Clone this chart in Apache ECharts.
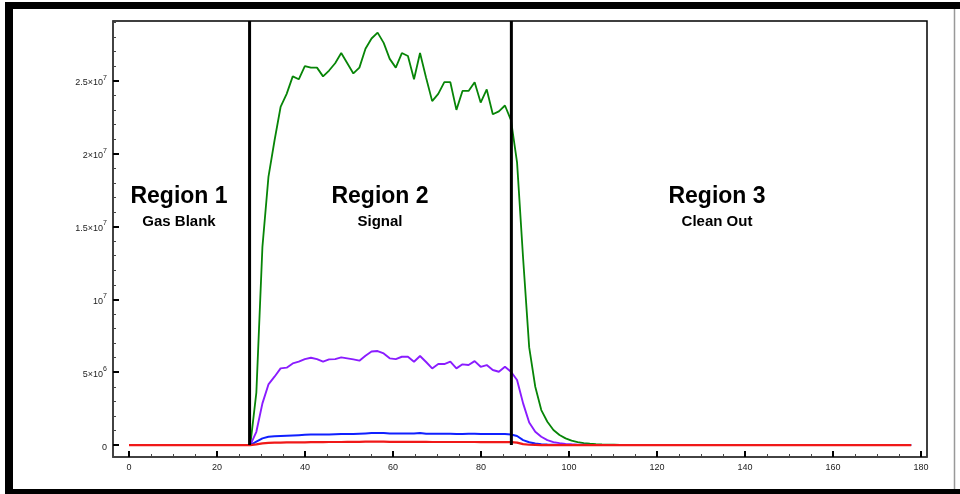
<!DOCTYPE html>
<html>
<head>
<meta charset="utf-8">
<script src="https://cdn.jsdelivr.net/npm/echarts@6/dist/echarts.min.js"></script>
<style>
  html, body { margin: 0; padding: 0; background: #fff; }
  #chart { width: 960px; height: 494px; }
</style>
</head>
<body>
<div id="chart"></div>
<script>
// acquisition time (s)
const times = [
  0, 1.38, 2.76, 4.13, 5.51, 6.89, 8.27, 9.65, 11.02, 12.40,
  13.78, 15.16, 16.54, 17.91, 19.29, 20.67, 22.05, 23.43, 24.80, 26.18,
  27.56, 28.94, 30.32, 31.69, 33.07, 34.45, 35.83, 37.21, 38.58, 39.96,
  41.34, 42.72, 44.10, 45.47, 46.85, 48.23, 49.61, 50.99, 52.36, 53.74,
  55.12, 56.50, 57.88, 59.25, 60.63, 62.01, 63.39, 64.77, 66.14, 67.52,
  68.90, 70.28, 71.66, 73.03, 74.41, 75.79, 77.17, 78.55, 79.92, 81.30,
  82.68, 84.06, 85.44, 86.81, 88.19, 89.57, 90.95, 92.33, 93.70, 95.08,
  96.46, 97.84, 99.22, 100.59, 101.97, 103.35, 104.73, 106.11, 107.48, 108.86,
  110.24, 111.62, 113.00, 114.37, 115.75, 117.13, 118.51, 119.89, 121.26, 122.64,
  124.02, 125.40, 126.78, 128.15, 129.53, 130.91, 132.29, 133.67, 135.04, 136.42,
  137.80, 139.18, 140.56, 141.93, 143.31, 144.69, 146.07, 147.45, 148.82, 150.20,
  151.58, 152.96, 154.34, 155.71, 157.09, 158.47, 159.85, 161.23, 162.60, 163.98,
  165.36, 166.74, 168.12, 169.49, 170.87, 172.25, 173.63, 175.01, 176.38, 177.76
];

// signal, millions of counts
const greenSignal = [
  0, 0, 0, 0, 0, 0, 0, 0, 0, 0,
  0, 0, 0, 0, 0, 0, 0, 0, 0, 0,
  0, 3.6, 13.6, 18.4, 20.9, 23.2, 24.1, 25.3, 25.1, 26.0,
  25.9, 25.9, 25.3, 25.7, 26.2, 26.9, 26.2, 25.5, 25.9, 27.2,
  27.9, 28.3, 27.6, 26.5, 25.9, 26.9, 26.7, 25.1, 26.9, 25.2,
  23.6, 24.1, 24.9, 24.9, 23.0, 24.3, 24.3, 24.9, 23.5, 24.4,
  22.7, 22.9, 23.3, 22.3, 19.4, 12.8, 6.7, 4.0, 2.4, 1.6,
  1.03, 0.69, 0.46, 0.3, 0.2, 0.13, 0.09, 0.06, 0.04, 0.03,
  0.02, 0.01, 0, 0, 0, 0, 0, 0, 0, 0,
  0, 0, 0, 0, 0, 0, 0, 0, 0, 0,
  0, 0, 0, 0, 0, 0, 0, 0, 0, 0,
  0, 0, 0, 0, 0, 0, 0, 0, 0, 0,
  0, 0, 0, 0, 0, 0, 0, 0, 0, 0
];

const purpleSignal = [
  0, 0, 0, 0, 0, 0, 0, 0, 0, 0,
  0, 0, 0, 0, 0, 0, 0, 0, 0, 0,
  0, 0.91, 2.86, 4.16, 4.69, 5.26, 5.31, 5.6, 5.72, 5.9,
  5.99, 5.9, 5.72, 5.88, 5.9, 6.02, 5.95, 5.88, 5.79, 6.13,
  6.42, 6.45, 6.29, 5.95, 5.9, 6.06, 6.06, 5.72, 6.11, 5.7,
  5.26, 5.56, 5.56, 5.72, 5.26, 5.54, 5.49, 5.76, 5.37, 5.49,
  5.15, 5.03, 5.37, 5.03, 4.46, 2.86, 1.55, 0.91, 0.57, 0.34,
  0.2, 0.13, 0.08, 0.05, 0.03, 0.02, 0.01, 0, 0, 0,
  0, 0, 0, 0, 0, 0, 0, 0, 0, 0,
  0, 0, 0, 0, 0, 0, 0, 0, 0, 0,
  0, 0, 0, 0, 0, 0, 0, 0, 0, 0,
  0, 0, 0, 0, 0, 0, 0, 0, 0, 0,
  0, 0, 0, 0, 0, 0, 0, 0, 0, 0
];

const blueSignal = [
  0, 0, 0, 0, 0, 0, 0, 0, 0, 0,
  0, 0, 0, 0, 0, 0, 0, 0, 0, 0,
  0, 0.23, 0.46, 0.57, 0.6, 0.62, 0.64, 0.66, 0.68, 0.7,
  0.72, 0.72, 0.73, 0.73, 0.74, 0.75, 0.75, 0.76, 0.78, 0.8,
  0.82, 0.83, 0.82, 0.8, 0.8, 0.8, 0.79, 0.8, 0.82, 0.78,
  0.77, 0.77, 0.78, 0.77, 0.75, 0.76, 0.77, 0.77, 0.76, 0.76,
  0.76, 0.75, 0.75, 0.73, 0.62, 0.34, 0.19, 0.1, 0.05, 0.03,
  0.02, 0.01, 0, 0, 0, 0, 0, 0, 0, 0,
  0, 0, 0, 0, 0, 0, 0, 0, 0, 0,
  0, 0, 0, 0, 0, 0, 0, 0, 0, 0,
  0, 0, 0, 0, 0, 0, 0, 0, 0, 0,
  0, 0, 0, 0, 0, 0, 0, 0, 0, 0,
  0, 0, 0, 0, 0, 0, 0, 0, 0, 0
];

const redSignal = [
  0, 0, 0, 0, 0, 0, 0, 0, 0, 0,
  0, 0, 0, 0, 0, 0, 0, 0, 0, 0,
  0, 0.05, 0.12, 0.15, 0.16, 0.17, 0.18, 0.18, 0.19, 0.19,
  0.2, 0.2, 0.2, 0.21, 0.21, 0.21, 0.22, 0.22, 0.22, 0.23,
  0.23, 0.23, 0.23, 0.22, 0.22, 0.22, 0.22, 0.22, 0.22, 0.22,
  0.21, 0.21, 0.21, 0.21, 0.21, 0.21, 0.21, 0.21, 0.2, 0.2,
  0.2, 0.2, 0.2, 0.2, 0.17, 0.06, 0.02, 0.01, 0, 0,
  0, 0, 0, 0, 0, 0, 0, 0, 0, 0,
  0, 0, 0, 0, 0, 0, 0, 0, 0, 0,
  0, 0, 0, 0, 0, 0, 0, 0, 0, 0,
  0, 0, 0, 0, 0, 0, 0, 0, 0, 0,
  0, 0, 0, 0, 0, 0, 0, 0, 0, 0,
  0, 0, 0, 0, 0, 0, 0, 0, 0, 0
];

// region boundaries (s)
const regionBounds = [27.4, 86.9];
const regionTitles = ['Region 1', 'Region 2', 'Region 3'];
const regionNames = ['Gas Blank', 'Signal', 'Clean Out'];

const xTicks = [0, 20, 40, 60, 80, 100, 120, 140, 160, 180];
const xMinorTicks = [5, 10, 15, 25, 30, 35, 45, 50, 55, 65, 70, 75, 85, 90, 95,
  105, 110, 115, 125, 130, 135, 145, 150, 155, 165, 170, 175];
const yTicks = [0, 5, 10, 15, 20, 25];
const yTickMantissa = ['0', '5×10', '10', '1.5×10', '2×10', '2.5×10'];
const yTickExponent = ['', '6', '7', '7', '7', '7'];
const yMinorTicks = [1, 2, 3, 4, 6, 7, 8, 9, 11, 12, 13, 14, 16, 17, 18, 19,
  21, 22, 23, 24, 26, 27, 28, 29];

const FONT = '"Liberation Sans", Arial, Helvetica, sans-serif';

const chart = echarts.init(document.getElementById('chart'), null, { renderer: 'canvas' });

function pairs(values) {
  return times.map((t, i) => [t, values[i]]);
}

const xRange = { min: -3.64, max: 181.36 };
const yRange = { min: -0.82, max: 29.1 };

const regionTexts = [];
const regionCenters = [179, 380, 717];
regionCenters.forEach((cx, i) => {
  regionTexts.push({
    type: 'text', x: cx, y: 197, z: 100,
    style: {
      text: regionTitles[i], fill: '#000',
      font: 'bold 23px ' + FONT,
      align: 'center', verticalAlign: 'middle',
      textAlign: 'center', textVerticalAlign: 'middle'
    }
  });
  regionTexts.push({
    type: 'text', x: cx, y: 222, z: 100,
    style: {
      text: regionNames[i], fill: '#000',
      font: 'bold 15px ' + FONT,
      align: 'center', verticalAlign: 'middle',
      textAlign: 'center', textVerticalAlign: 'middle'
    }
  });
});

chart.setOption({
  animation: false,
  backgroundColor: '#fff',
  grid: {
    left: 113, right: 33, top: 21, bottom: 37,
    show: true, borderColor: '#000', borderWidth: 1.5, backgroundColor: '#fff'
  },
  xAxis: [{
    type: 'value', position: 'bottom', min: xRange.min, max: xRange.max,
    axisLine: { show: true, onZero: false, lineStyle: { color: '#444', width: 1.5 } },
    axisTick: { show: true, inside: true, length: 6, customValues: xTicks, lineStyle: { color: '#000', width: 2 } },
    axisLabel: { customValues: xTicks, color: '#222', fontSize: 9, fontFamily: FONT, margin: 6 },
    splitLine: { show: false }
  }, {
    type: 'value', position: 'bottom', min: xRange.min, max: xRange.max,
    axisLine: { show: false, onZero: false },
    axisTick: { show: true, inside: true, length: 3, customValues: xMinorTicks, lineStyle: { color: '#444', width: 1 } },
    axisLabel: { show: false },
    splitLine: { show: false }
  }],
  yAxis: [{
    type: 'value', position: 'left', min: yRange.min, max: yRange.max,
    axisLine: { show: true, onZero: false, lineStyle: { color: '#444', width: 1.5 } },
    axisTick: { show: true, inside: true, length: 6, customValues: yTicks, lineStyle: { color: '#000', width: 2 } },
    axisLabel: {
      customValues: yTicks, margin: 6,
      formatter: (v) => {
        const i = yTicks.indexOf(v);
        if (i < 0) return '';
        if (!yTickExponent[i]) return '{m|' + yTickMantissa[i] + '}';
        return '{m|' + yTickMantissa[i] + '}{e|' + yTickExponent[i] + '}';
      },
      rich: {
        m: { fontSize: 9, fontFamily: FONT, color: '#222', lineHeight: 13, verticalAlign: 'bottom' },
        e: { fontSize: 7, fontFamily: FONT, color: '#222', lineHeight: 8, verticalAlign: 'top' }
      }
    },
    splitLine: { show: false }
  }, {
    type: 'value', position: 'left', min: yRange.min, max: yRange.max,
    axisLine: { show: false, onZero: false },
    axisTick: { show: true, inside: true, length: 3, customValues: yMinorTicks, lineStyle: { color: '#444', width: 1 } },
    axisLabel: { show: false },
    splitLine: { show: false }
  }],
  graphic: [
    { type: 'rect', shape: { x: 5, y: 2, width: 955, height: 7 }, style: { fill: '#000' }, z: 200 },
    { type: 'rect', shape: { x: 5, y: 2, width: 8, height: 492 }, style: { fill: '#000' }, z: 200 },
    { type: 'rect', shape: { x: 5, y: 489, width: 955, height: 5 }, style: { fill: '#000' }, z: 200 },
    { type: 'line', shape: { x1: 954.5, y1: 9, x2: 954.5, y2: 489 }, style: { stroke: '#999', lineWidth: 1.5 }, z: 200 }
  ].concat(regionTexts),
  series: [
    { name: 'green', type: 'line', data: pairs(greenSignal), symbol: 'none',
      lineStyle: { color: '#078507', width: 1.8 }, z: 3 },
    { name: 'purple', type: 'line', data: pairs(purpleSignal), symbol: 'none',
      lineStyle: { color: '#8a1cff', width: 1.9 }, z: 4 },
    { name: 'blue', type: 'line', data: pairs(blueSignal), symbol: 'none',
      lineStyle: { color: '#1020ff', width: 2 }, z: 5 },
    { name: 'red', type: 'line', data: pairs(redSignal), symbol: 'none',
      lineStyle: { color: '#f01818', width: 2.2 }, z: 6 },
    { name: 'start', type: 'line', data: [[regionBounds[0], 0], [regionBounds[0], yRange.max]],
      symbol: 'none', lineStyle: { color: '#000', width: 3 }, z: 10 },
    { name: 'end', type: 'line', data: [[regionBounds[1], 0], [regionBounds[1], yRange.max]],
      symbol: 'none', lineStyle: { color: '#000', width: 3 }, z: 10 }
  ]
});
</script>
</body>
</html>
